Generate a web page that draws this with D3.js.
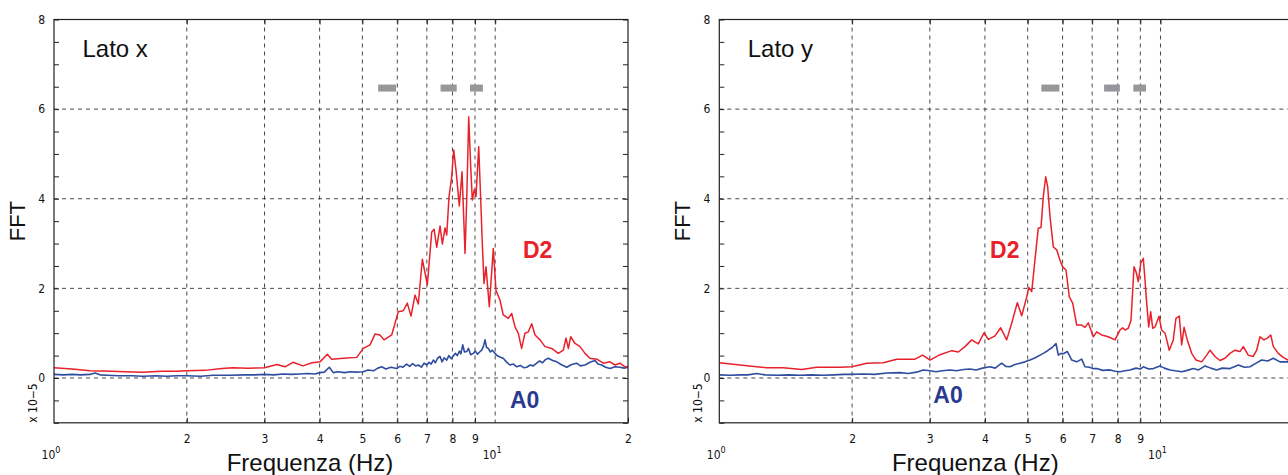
<!DOCTYPE html>
<html>
<head>
<meta charset="utf-8">
<script src="https://cdn.jsdelivr.net/npm/d3@7"></script>
<style>
  body { margin: 0; background: #fff; }
  svg { display: block; }
</style>
</head>
<body>
<svg id="chart" width="1288" height="475"></svg>
<script>
// ---------- Lato x : spectra (Hz, value x 10^-5) ----------
const xD2Freq = [1.00, 1.10, 1.207, 1.35, 1.45, 1.591, 1.75, 1.90, 2.00, 2.20, 2.40, 2.545, 2.75, 3.00, 3.203, 3.339, 3.481, 3.667, 3.844, 4.008, 4.164, 4.260, 4.526, 4.855, 5.024, 5.203, 5.341, 5.482, 5.598, 5.827, 6.031, 6.190, 6.321, 6.445, 6.580, 6.695, 6.837, 7.018, 7.181, 7.268, 7.370, 7.499, 7.589, 7.697, 7.766, 7.859, 7.970, 8.054, 8.151, 8.293, 8.411, 8.544, 8.619, 8.710, 8.801, 8.874, 8.969, 9.048, 9.176, 9.273, 9.350, 9.433, 9.532, 9.698, 9.902, 10.04, 10.25, 10.43, 10.71, 10.90, 11.09, 11.28, 11.48, 11.68, 11.89, 12.10, 12.31, 12.64, 12.97, 13.43, 13.90, 14.27, 14.47, 14.65, 14.83, 15.17, 15.57, 15.98, 16.40, 16.99, 17.58, 18.21, 18.69, 19.18, 19.69, 20.00];
const xD2Val  = [0.23, 0.20, 0.16, 0.15, 0.14, 0.13, 0.15, 0.15, 0.16, 0.17, 0.21, 0.23, 0.22, 0.23, 0.30, 0.25, 0.35, 0.27, 0.34, 0.36, 0.53, 0.42, 0.44, 0.46, 0.66, 0.74, 0.98, 0.96, 0.85, 0.96, 1.48, 1.50, 1.67, 1.38, 1.85, 1.65, 2.65, 2.08, 3.26, 3.32, 2.92, 3.39, 2.99, 3.35, 3.19, 4.05, 4.49, 5.09, 4.64, 3.84, 4.60, 2.78, 3.97, 5.83, 4.71, 3.97, 4.21, 4.05, 5.16, 3.97, 3.00, 2.11, 2.48, 1.59, 2.89, 1.96, 1.74, 1.41, 1.33, 1.44, 1.14, 1.00, 0.66, 1.00, 1.03, 1.21, 0.96, 0.85, 0.70, 0.66, 0.55, 0.62, 0.89, 0.66, 0.92, 0.77, 0.70, 0.55, 0.44, 0.42, 0.33, 0.36, 0.29, 0.33, 0.25, 0.25];

const xA0Freq = [1.00, 1.05, 1.10, 1.15, 1.207, 1.239, 1.271, 1.32, 1.40, 1.50, 1.591, 1.70, 1.80, 1.90, 2.00, 2.15, 2.30, 2.50, 2.70, 2.85, 3.00, 3.15, 3.30, 3.45, 3.61, 3.75, 3.90, 4.008, 4.10, 4.207, 4.296, 4.40, 4.55, 4.70, 4.85, 5.024, 5.15, 5.30, 5.42, 5.531, 5.65, 5.80, 5.981, 6.08, 6.18, 6.301, 6.40, 6.50, 6.60, 6.695, 6.80, 6.90, 6.997, 7.08, 7.16, 7.24, 7.32, 7.40, 7.499, 7.58, 7.66, 7.766, 7.85, 7.95, 8.037, 8.12, 8.20, 8.30, 8.36, 8.442, 8.52, 8.619, 8.70, 8.80, 8.92, 9.02, 9.12, 9.22, 9.32, 9.40, 9.483, 9.56, 9.647, 9.75, 9.85, 9.99, 10.10, 10.25, 10.43, 10.60, 10.80, 11.00, 11.19, 11.40, 11.60, 11.79, 12.00, 12.20, 12.42, 12.60, 12.80, 13.00, 13.19, 13.50, 13.79, 14.10, 14.53, 14.90, 15.30, 15.60, 15.98, 16.40, 16.84, 17.10, 17.43, 17.80, 18.21, 18.70, 19.18, 19.60, 20.00];
const xA0Val  = [0.08, 0.07, 0.08, 0.07, 0.08, 0.11, 0.07, 0.06, 0.05, 0.05, 0.04, 0.05, 0.04, 0.05, 0.05, 0.04, 0.06, 0.06, 0.07, 0.07, 0.08, 0.07, 0.09, 0.08, 0.09, 0.10, 0.09, 0.12, 0.13, 0.24, 0.12, 0.14, 0.12, 0.14, 0.13, 0.14, 0.18, 0.16, 0.22, 0.25, 0.20, 0.24, 0.21, 0.26, 0.24, 0.31, 0.26, 0.32, 0.27, 0.29, 0.24, 0.33, 0.29, 0.35, 0.31, 0.40, 0.34, 0.44, 0.48, 0.36, 0.45, 0.40, 0.50, 0.43, 0.49, 0.55, 0.50, 0.60, 0.54, 0.74, 0.58, 0.59, 0.66, 0.52, 0.55, 0.60, 0.53, 0.58, 0.62, 0.70, 0.85, 0.68, 0.66, 0.58, 0.62, 0.55, 0.50, 0.47, 0.44, 0.36, 0.29, 0.31, 0.25, 0.28, 0.23, 0.24, 0.29, 0.27, 0.33, 0.38, 0.34, 0.41, 0.44, 0.39, 0.36, 0.30, 0.24, 0.30, 0.33, 0.27, 0.29, 0.35, 0.39, 0.31, 0.29, 0.24, 0.21, 0.25, 0.24, 0.22, 0.24];

// ---------- Lato y ----------
const yD2Freq = [1.00, 1.114, 1.280, 1.397, 1.537, 1.663, 1.877, 2.00, 2.159, 2.353, 2.524, 2.777, 2.891, 3.003, 3.164, 3.364, 3.481, 3.605, 3.733, 3.864, 3.981, 4.071, 4.216, 4.343, 4.481, 4.600, 4.737, 4.847, 4.975, 5.027, 5.107, 5.222, 5.284, 5.360, 5.425, 5.493, 5.550, 5.618, 5.715, 5.817, 5.918, 6.002, 6.107, 6.213, 6.324, 6.458, 6.628, 6.744, 6.861, 7.042, 7.168, 7.357, 7.615, 7.886, 8.094, 8.209, 8.310, 8.453, 8.574, 8.710, 8.801, 8.907, 9.018, 9.141, 9.224, 9.305, 9.404, 9.502, 9.601, 9.718, 9.922, 10.06, 10.24, 10.47, 10.69, 10.84, 11.03, 11.17, 11.31, 11.50, 11.77, 12.04, 12.40, 12.73, 12.95, 13.29, 13.64, 14.00, 14.37, 14.75, 15.14, 15.41, 15.81, 16.23, 16.52, 16.81, 17.16, 17.46, 17.78, 18.02, 18.49, 18.98, 19.45, 20.00];
const yD2Val  = [0.34, 0.29, 0.23, 0.23, 0.19, 0.24, 0.24, 0.25, 0.33, 0.34, 0.42, 0.42, 0.51, 0.40, 0.52, 0.61, 0.58, 0.70, 0.85, 0.76, 1.01, 0.86, 0.94, 1.12, 0.85, 1.22, 1.68, 1.39, 1.81, 2.02, 1.93, 2.86, 3.34, 3.36, 4.05, 4.49, 4.27, 3.60, 2.93, 2.86, 2.63, 2.48, 2.41, 1.81, 1.67, 1.18, 1.18, 1.13, 1.23, 0.92, 1.03, 0.96, 0.92, 0.85, 1.07, 1.12, 1.07, 1.11, 1.29, 2.48, 2.37, 2.15, 2.56, 2.67, 2.19, 1.67, 1.14, 1.48, 1.11, 1.14, 1.38, 1.07, 1.00, 0.62, 0.85, 1.33, 1.38, 0.74, 1.13, 0.85, 0.55, 0.40, 0.36, 0.51, 0.62, 0.48, 0.39, 0.44, 0.55, 0.62, 0.59, 0.70, 0.51, 0.48, 0.62, 0.92, 0.85, 0.89, 0.96, 0.70, 0.55, 0.46, 0.40, 0.38];

const yA0Freq = [1.00, 1.06, 1.114, 1.16, 1.216, 1.269, 1.35, 1.44, 1.523, 1.62, 1.72, 1.82, 1.91, 2.00, 2.12, 2.25, 2.40, 2.568, 2.68, 2.80, 2.900, 3.003, 3.10, 3.20, 3.334, 3.45, 3.58, 3.70, 3.82, 3.95, 4.108, 4.22, 4.366, 4.46, 4.560, 4.68, 4.804, 4.93, 5.062, 5.20, 5.333, 5.45, 5.568, 5.68, 5.797, 5.867, 5.95, 6.022, 6.149, 6.22, 6.292, 6.458, 6.628, 6.744, 6.90, 7.03, 7.168, 7.40, 7.684, 7.90, 8.094, 8.30, 8.529, 8.80, 9.00, 9.141, 9.40, 9.632, 9.975, 10.20, 10.51, 10.80, 11.17, 11.50, 11.87, 12.20, 12.62, 13.00, 13.41, 13.80, 14.37, 14.70, 15.01, 15.50, 15.96, 16.40, 16.96, 17.50, 18.02, 18.66, 19.45, 20.00];
const yA0Val  = [0.07, 0.06, 0.07, 0.07, 0.10, 0.07, 0.06, 0.07, 0.06, 0.07, 0.06, 0.07, 0.08, 0.08, 0.09, 0.08, 0.11, 0.12, 0.10, 0.13, 0.18, 0.16, 0.14, 0.16, 0.18, 0.16, 0.19, 0.20, 0.18, 0.22, 0.25, 0.22, 0.33, 0.26, 0.25, 0.30, 0.33, 0.36, 0.40, 0.45, 0.51, 0.56, 0.62, 0.68, 0.77, 0.51, 0.55, 0.54, 0.59, 0.50, 0.40, 0.36, 0.42, 0.25, 0.24, 0.21, 0.21, 0.17, 0.18, 0.15, 0.14, 0.16, 0.18, 0.22, 0.20, 0.25, 0.20, 0.21, 0.27, 0.22, 0.18, 0.16, 0.14, 0.17, 0.21, 0.18, 0.27, 0.22, 0.18, 0.22, 0.21, 0.25, 0.29, 0.24, 0.25, 0.32, 0.40, 0.38, 0.44, 0.36, 0.36, 0.33];

// Frequency bands marked by grey bars (Hz) and their level
const xBands = [[5.43, 5.96], [7.52, 8.18], [8.77, 9.38]];
const yBands = [[5.37, 5.90], [7.45, 8.09], [8.68, 9.27]];
const bandLevel = 6.47;

// Axis ticks
const yTickLabels = [0, 2, 4, 6, 8];
const yMinorTicks = d3.range(-1, 8.001, 0.5);
const yGrid = [0, 2, 4, 6];
const xMinorLabels = [2, 3, 4, 5, 6, 7, 8, 9, 20];
const xGrid = [2, 3, 4, 5, 6, 7, 8, 9, 10];
const xDecades = [1, 10];

// ---------- layout ----------
const SVG_W = 1288;
const W = 574, H = 403.3;
const RED = "#e8212b", BLUE = "#2f4c9f";
const svg = d3.select("#chart");
const narrow = "'Liberation Sans Narrow','DejaVu Sans Condensed','Liberation Sans',sans-serif";
const sans = "'Liberation Sans',Arial,Helvetica,sans-serif";

const panels = [
  { left: 54, title: "Lato x", d2f: xD2Freq, d2v: xD2Val, a0f: xA0Freq, a0v: xA0Val, bands: xBands,
    d2At: [11.56, 2.68], a0At: [10.80, -0.67] },
  { left: 719.3, title: "Lato y", d2f: yD2Freq, d2v: yD2Val, a0f: yA0Freq, a0v: yA0Val, bands: yBands,
    d2At: [4.108, 2.68], a0At: [3.055, -0.55] }
];

// minor-decade labels show the mantissa only (20 -> "2")
const mantissa = d => String(d >= 10 ? d / 10 : d);

panels.forEach((p, i) => {
  const g = svg.append("g").attr("transform", `translate(${p.left},19.5)`);
  const x = d3.scaleLog().domain([1, 20]).range([0, W]);
  const y = d3.scaleLinear().domain([-1, 8]).range([H, 0]);

  const clipId = "clip" + i;
  g.append("clipPath").attr("id", clipId)
    .append("rect").attr("width", W).attr("height", H);

  // grid
  const grid = g.append("g").attr("stroke", "#333").attr("stroke-width", 0.9)
    .attr("stroke-dasharray", "4,4");
  grid.selectAll("line.v").data(xGrid).join("line").attr("class", "v")
    .attr("x1", d => x(d)).attr("x2", d => x(d)).attr("y1", 0).attr("y2", H);
  grid.selectAll("line.h").data(yGrid).join("line").attr("class", "h")
    .attr("x1", 0).attr("x2", W).attr("y1", d => y(d)).attr("y2", d => y(d));

  // bands
  g.append("g").selectAll("rect").data(p.bands).join("rect")
    .attr("x", d => x(d[0])).attr("width", d => x(d[1]) - x(d[0]))
    .attr("y", y(bandLevel) - 3.5).attr("height", 7)
    .attr("fill", "#97979b");

  // series
  const line = d3.line().x(d => x(d[0])).y(d => y(d[1]));
  const plot = g.append("g").attr("clip-path", `url(#${clipId})`);
  plot.append("path").datum(d3.zip(p.a0f, p.a0v))
    .attr("d", line).attr("fill", "none").attr("stroke", BLUE).attr("stroke-width", 1.6)
    .attr("stroke-linejoin", "round");
  plot.append("path").datum(d3.zip(p.d2f, p.d2v))
    .attr("d", line).attr("fill", "none").attr("stroke", RED).attr("stroke-width", 1.5)
    .attr("stroke-linejoin", "round");

  // axes: inward ticks on all four sides
  const visibleX = xMinorLabels.filter(d => p.left + x(d) + 4 < SVG_W);
  const fmtY = d => yTickLabels.includes(d) ? d3.format("d")(d) : "";
  const axL = g.append("g").call(d3.axisLeft(y).tickValues(yMinorTicks).tickSize(-5).tickPadding(9).tickFormat(fmtY));
  const axR = g.append("g").attr("transform", `translate(${W},0)`)
    .call(d3.axisRight(y).tickValues(yMinorTicks).tickSize(-5).tickFormat(""));
  const axB = g.append("g").attr("transform", `translate(0,${H})`)
    .call(d3.axisBottom(x).tickValues(visibleX).tickSize(-5).tickPadding(12).tickFormat(mantissa));
  const axT = g.append("g")
    .call(d3.axisTop(x).tickValues(xGrid).tickSize(-5).tickFormat(""));
  [axL, axR, axB, axT].forEach(a => {
    a.select(".domain").remove();
    a.selectAll(".tick line").attr("stroke", "#222").attr("stroke-width", 1);
    a.selectAll("text").attr("font-family", narrow).attr("font-size", 12).attr("fill", "#111");
  });

  // decade labels 10^0, 10^1
  const dec = g.append("g").attr("font-family", narrow).attr("fill", "#111");
  xDecades.forEach(d => {
    const t = dec.append("text").attr("x", x(d) - 3).attr("y", H + 36.5)
      .attr("text-anchor", "middle").attr("font-size", 12);
    t.append("tspan").text("10");
    t.append("tspan").attr("dy", -6).attr("font-size", 9).text(Math.round(Math.log10(d)));
  });

  // frame
  g.append("rect").attr("width", W).attr("height", H)
    .attr("fill", "none").attr("stroke", "#222").attr("stroke-width", 1.2);

  // scale factor label
  g.append("text").attr("transform", `translate(-17,${H}) rotate(-90)`)
    .attr("font-family", narrow).attr("font-size", 12).attr("fill", "#111")
    .text("x 10\u22125");

  // axis titles
  g.append("text").attr("transform", `translate(-29,${y(3.5)}) rotate(-90)`)
    .attr("text-anchor", "middle").attr("font-family", sans).attr("font-size", 22)
    .attr("fill", "#111").text("FFT");
  g.append("text").attr("x", 256).attr("y", H + 48)
    .attr("text-anchor", "middle").attr("font-family", sans).attr("font-size", 24)
    .attr("fill", "#111").text("Frequenza (Hz)");

  // panel title
  g.append("text").attr("x", x(1.16)).attr("y", y(7.16))
    .attr("font-family", sans).attr("font-size", 24).attr("fill", "#111").text(p.title);

  // series labels
  g.append("text").attr("x", x(p.d2At[0])).attr("y", y(p.d2At[1]))
    .attr("font-family", sans).attr("font-weight", "bold").attr("font-size", 23)
    .attr("fill", RED).text("D2");
  g.append("text").attr("x", x(p.a0At[0])).attr("y", y(p.a0At[1]))
    .attr("font-family", sans).attr("font-weight", "bold").attr("font-size", 23)
    .attr("fill", "#2b3990").text("A0");
});
</script>
</body>
</html>
